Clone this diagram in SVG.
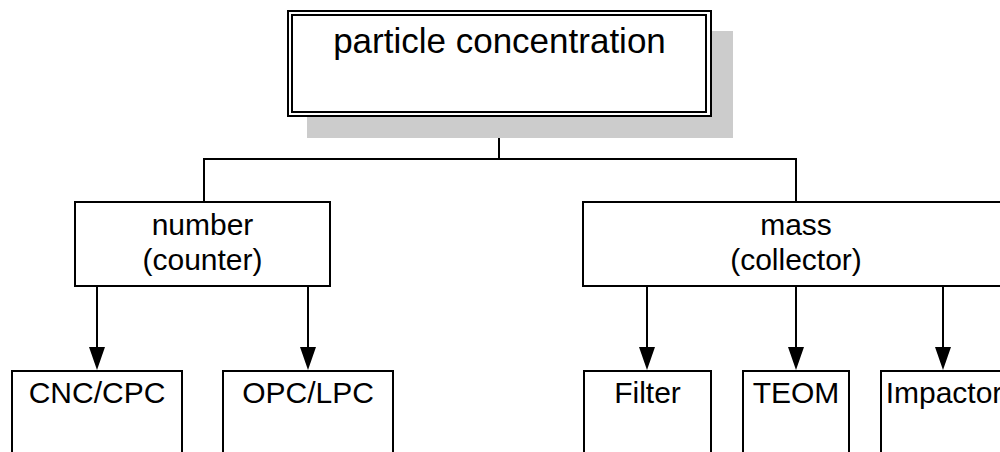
<svg xmlns="http://www.w3.org/2000/svg" width="1000" height="452" viewBox="0 0 1000 452">
<defs>
<style>
.box{fill:#fff;stroke:#000;stroke-width:2}
.ln{fill:none;stroke:#000;stroke-width:2}
.ah{fill:#000;stroke:none}
.t{font-family:"Liberation Sans",Arial,sans-serif;font-size:30px;fill:#000;text-anchor:middle}
.tt{font-family:"Liberation Sans",Arial,sans-serif;font-size:35px;fill:#000;text-anchor:middle}
</style>
</defs>
<rect width="1000" height="452" fill="#fff"/>
<g id="connectors">
<line class="ln" x1="499" y1="116" x2="499" y2="159"/>
<polyline class="ln" points="204,202 204,159 796,159 796,202"/>
<line class="ln" x1="97" y1="286" x2="97" y2="350"/>
<polygon class="ah" points="89,347 105,347 97,370"/>
<line class="ln" x1="308" y1="286" x2="308" y2="350"/>
<polygon class="ah" points="300,347 316,347 308,370"/>
<line class="ln" x1="647" y1="286" x2="647" y2="350"/>
<polygon class="ah" points="639,347 655,347 647,370"/>
<line class="ln" x1="796" y1="286" x2="796" y2="350"/>
<polygon class="ah" points="788,347 804,347 796,370"/>
<line class="ln" x1="943" y1="286" x2="943" y2="350"/>
<polygon class="ah" points="935,347 951,347 943,370"/>
</g>
<g id="root">
<rect x="307" y="31" width="426" height="107" fill="#cccccc"/>
<rect class="box" x="288" y="11" width="423" height="105"/>
<rect class="box" x="292" y="15" width="414" height="97"/>
<text class="tt" x="499.5" y="53">particle concentration</text>
</g>
<g id="number">
<rect class="box" x="75" y="202" width="255" height="84"/>
<text class="t" x="202.5" y="235">number</text>
<text class="t" x="202.5" y="270">(counter)</text>
</g>
<g id="mass">
<rect class="box" x="583" y="202" width="430" height="84"/>
<text class="t" x="796" y="235">mass</text>
<text class="t" x="796" y="270">(collector)</text>
</g>
<g id="cnc">
<rect class="box" x="12" y="371" width="170" height="100"/>
<text class="t" x="97" y="403">CNC/CPC</text>
</g>
<g id="opc">
<rect class="box" x="223" y="371" width="170" height="100"/>
<text class="t" x="308" y="403">OPC/LPC</text>
</g>
<g id="filter">
<rect class="box" x="584" y="371" width="127" height="100"/>
<text class="t" x="647.5" y="403">Filter</text>
</g>
<g id="teom">
<rect class="box" x="743" y="371" width="106" height="100"/>
<text class="t" x="796" y="403">TEOM</text>
</g>
<g id="impactor">
<rect class="box" x="881" y="371" width="130" height="100"/>
<text class="t" x="944" y="403">Impactor</text>
</g>
</svg>
